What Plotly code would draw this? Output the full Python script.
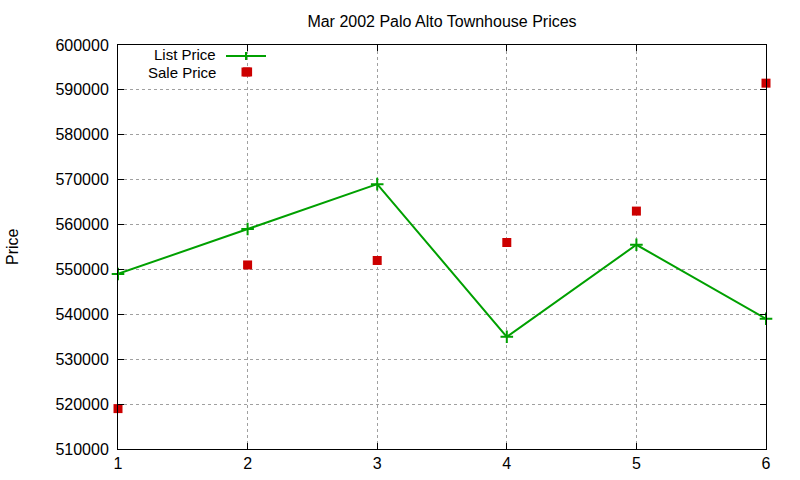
import plotly.graph_objects as go

# listing index and prices
house = [1, 2, 3, 4, 5, 6]
list_price = [549000, 559000, 569000, 535000, 555500, 539000]
sale_x = [1, 2, 2, 3, 4, 5, 6]
sale_price = [519000, 594000, 551000, 552000, 556000, 563000, 591500]

GREEN = "#00a000"
RED = "#cc0000"
FONT = "Liberation Sans, Arial, sans-serif"

W, H = 800, 480
L, R, T, B = 118, 34, 45, 31
pw, ph = W - L - R, H - T - B


def px(x):
    return (x - L) / pw


def py(y):
    return (H - B - y) / ph


fig = go.Figure()

fig.add_trace(go.Scatter(
    x=house, y=list_price, mode="lines+markers", name="List Price",
    line=dict(color=GREEN, width=2),
    marker=dict(symbol="cross-thin", size=9, line=dict(color=GREEN, width=2)),
    cliponaxis=False, hoverinfo="x+y",
))
fig.add_trace(go.Scatter(
    x=sale_x, y=sale_price, mode="markers", name="Sale Price",
    marker=dict(symbol="square", size=9, color=RED),
    cliponaxis=False, hoverinfo="x+y",
))

axis_common = dict(
    showline=True, linecolor="black", linewidth=1, mirror="ticks",
    ticks="inside", ticklen=6, tickcolor="black",
    showgrid=True, gridcolor="#a0a0a0", griddash="dot", gridwidth=1,
    zeroline=False, automargin=False,
    tickfont=dict(family=FONT, size=16, color="black"),
)

fig.update_layout(
    width=W, height=H,
    margin=dict(l=L, r=R, t=T, b=B),
    paper_bgcolor="white", plot_bgcolor="white",
    showlegend=False,
    title=dict(text="Mar 2002 Palo Alto Townhouse Prices", x=px(442), xanchor="center",
               xref="paper", y=1 - 21 / H, yanchor="middle",
               font=dict(family=FONT, size=16, color="black")),
    xaxis=dict(range=[1, 6], dtick=1, **axis_common),
    yaxis=dict(range=[510000, 600000], dtick=10000, tickformat="d",
               ticklabelstandoff=5, **axis_common),
)

fig.add_annotation(xref="paper", yref="paper", x=px(12), y=py(247), text="Price",
                   textangle=-90, showarrow=False, xanchor="center", yanchor="middle",
                   font=dict(family=FONT, size=16, color="black"))

# key in the upper left, gnuplot style
fig.add_annotation(xref="paper", yref="paper", x=px(218), y=py(54.5), text="List Price",
                   showarrow=False, xanchor="right", yanchor="middle",
                   font=dict(family=FONT, size=15, color="black"))
fig.add_annotation(xref="paper", yref="paper", x=px(218), y=py(72.5), text="Sale Price",
                   showarrow=False, xanchor="right", yanchor="middle",
                   font=dict(family=FONT, size=15, color="black"))
fig.add_shape(type="line", xref="paper", yref="paper", x0=px(226), x1=px(266),
              y0=py(56), y1=py(56), line=dict(color=GREEN, width=2))
fig.add_shape(type="line", xref="paper", yref="paper", x0=px(246), x1=px(246),
              y0=py(52), y1=py(60), line=dict(color=GREEN, width=2))
fig.add_shape(type="rect", xref="paper", yref="paper", x0=px(241.5), x1=px(250.5),
              y0=py(67.5), y1=py(76.5), fillcolor=RED, line=dict(width=0))

fig.write_html("out.html", config={"displayModeBar": False},
               post_script="document.body.style.margin='0';")
